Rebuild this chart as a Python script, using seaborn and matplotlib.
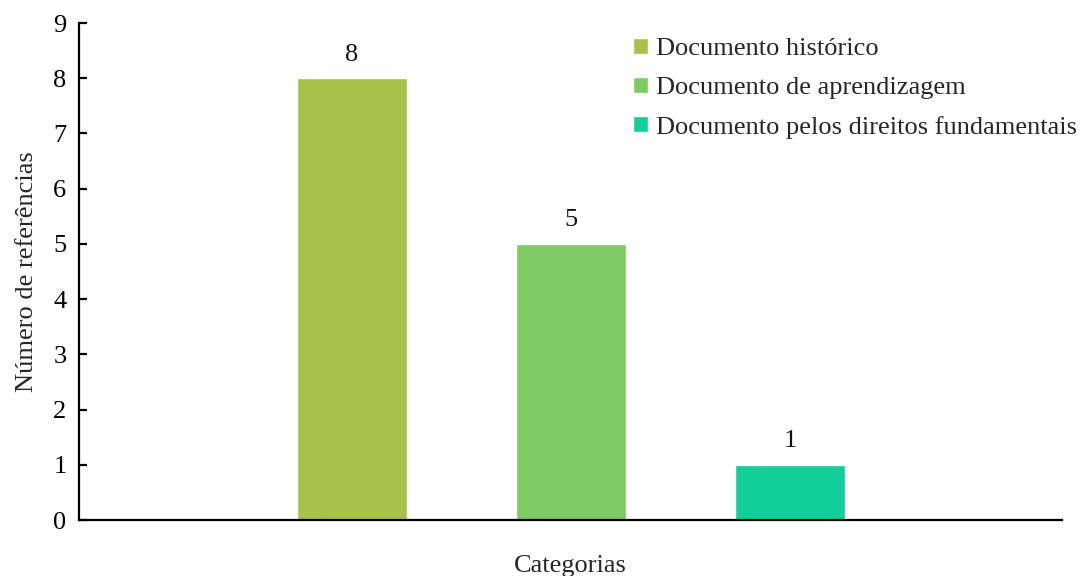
import matplotlib
matplotlib.use("Agg")
import matplotlib.pyplot as plt
import seaborn as sns
import pandas as pd

categories = ["Documento histórico", "Documento de aprendizagem",
              "Documento pelos direitos fundamentais"]
references = [8, 5, 1]
colors = ["#A6C24A", "#7ECB64", "#12CE98"]
y_ticks = list(range(0, 10))

sns.set_theme(style="white")
plt.rcParams["font.family"] = ["Liberation Serif", "DejaVu Serif"]

df = pd.DataFrame({"categoria": categories, "referencias": references})

fig = plt.figure(figsize=(10.8, 5.76), dpi=100)
ax = fig.add_axes([0.0731, 0.0972, 0.9102, 0.8628])

sns.barplot(data=df, x="categoria", y="referencias", hue="categoria",
            palette=colors, width=0.502, saturation=1, ax=ax, legend=True)

for container in ax.containers:
    ax.bar_label(container, padding=9, fontsize=19, color="#111111")

ax.set_xlim(-1.2466, 3.242)
ax.set_ylim(0, 9)
ax.set_yticks(y_ticks)
ax.set_xticks([])
ax.tick_params(axis="y", direction="in", length=6, width=1.6, labelsize=19,
               pad=9, colors="black", left=True)
for s in ["top", "right"]:
    ax.spines[s].set_visible(False)
for s in ["left", "bottom"]:
    ax.spines[s].set_color("black")
    ax.spines[s].set_linewidth(1.6)

ax.set_xlabel("Categorias", fontsize=19, labelpad=25)
ax.set_ylabel("Número de referências", fontsize=19, labelpad=11)

handles, labels = ax.get_legend_handles_labels()
ax.get_legend().remove()
fig.legend(handles, labels, loc="upper left",
           bbox_to_anchor=(633 / 1080, 1 - 38 / 576),
           bbox_transform=fig.transFigure,
           frameon=False, fontsize=19, handlelength=0.57, handleheight=0.57,
           handletextpad=0.3, labelspacing=0.62, borderaxespad=0, borderpad=0)

fig.savefig("out.png", dpi=100)
